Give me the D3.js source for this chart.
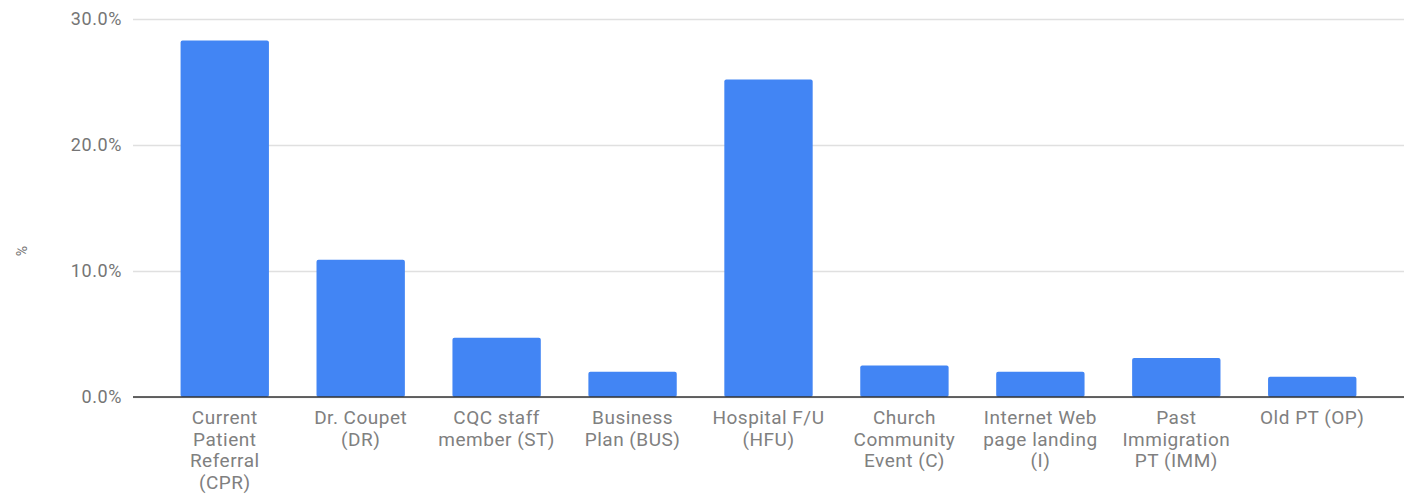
<!DOCTYPE html>
<html>
<head>
<meta charset="utf-8">
<script src="https://cdn.jsdelivr.net/npm/d3@7"></script>
<style>
  body { margin: 0; background: #fff; }
  svg text { font-family: Roboto, "Noto Sans", sans-serif; fill: #757575; }
</style>
</head>
<body>
<script>
// Categorías (con saltos de línea como en el original) y sus porcentajes.
var categories = [
  'Current\nPatient\nReferral\n(CPR)',
  'Dr. Coupet\n(DR)',
  'CQC staff\nmember (ST)',
  'Business\nPlan (BUS)',
  'Hospital F/U\n(HFU)',
  'Church\nCommunity\nEvent (C)',
  'Internet Web\npage landing\n(I)',
  'Past\nImmigration\nPT (IMM)',
  'Old PT (OP)'
];
var values = [28.3, 10.9, 4.7, 2.0, 25.2, 2.5, 2.0, 3.1, 1.6];
var yTicks = [0, 10, 20, 30];

var WIDTH = 1412;
var HEIGHT = 495;
var plotLeft = 133, plotRight = 1404, plotTop = 19, plotBottom = 397;

var svg = d3.select('body')
            .append('svg')
            .attr('width', WIDTH)
            .attr('height', HEIGHT);

var x = d3.scaleBand()
          .domain(d3.range(categories.length))
          .range([plotLeft, plotRight])
          .padding(0.35);

var y = d3.scaleLinear()
          .domain([0, 30])
          .range([plotBottom, plotTop]);

// líneas de la cuadrícula
var yAxis = d3.axisLeft(y)
              .tickValues(yTicks)
              .tickSize(-(plotRight - plotLeft))
              .tickPadding(11)
              .tickFormat(function(d) { return d3.format('.1f')(d) + '%'; });

var gy = svg.append('g')
            .attr('transform', 'translate(' + plotLeft + ',0)')
            .call(yAxis);
gy.select('.domain').remove();
gy.selectAll('.tick line').attr('stroke', '#e0e0e0').attr('stroke-width', 1.5);
gy.selectAll('.tick text')
  .attr('font-size', 18)
  .attr('letter-spacing', 0.6)
  .attr('fill', '#808080');

// barras
svg.selectAll('rect.bar')
   .data(values)
   .enter()
 .append('rect')
   .attr('class', 'bar')
   .attr('x', function(d, i) { return x(i); })
   .attr('y', function(d) { return y(d); })
   .attr('width', x.bandwidth())
   .attr('height', function(d) { return y(0) - y(d); })
   .attr('rx', 2)
   .attr('fill', '#4285f4');

// línea base
svg.append('line')
   .attr('x1', plotLeft).attr('x2', plotRight)
   .attr('y1', y(0)).attr('y2', y(0))
   .attr('stroke', '#333')
   .attr('stroke-width', 1.5);

// etiquetas del eje x
var labels = svg.selectAll('text.cat')
                .data(categories)
                .enter()
              .append('text')
                .attr('class', 'cat')
                .attr('text-anchor', 'middle')
                .attr('font-size', 19)
                .attr('letter-spacing', 0.5)
                .style('fill', '#808080')
                .attr('transform', function(d, i) {
                  return 'translate(' + (x(i) + x.bandwidth() / 2) + ',' + 424 + ')';
                });

labels.selectAll('tspan')
      .data(function(d) { return d.split('\n'); })
      .enter()
    .append('tspan')
      .attr('x', 0)
      .attr('y', function(d, i) { return i * 21.5; })
      .text(function(d) { return d; });

// título del eje y
svg.append('text')
   .attr('transform', 'translate(27,251) rotate(-90)')
   .attr('text-anchor', 'middle')
   .attr('font-size', 14)
   .text('%');
</script>
</body>
</html>
